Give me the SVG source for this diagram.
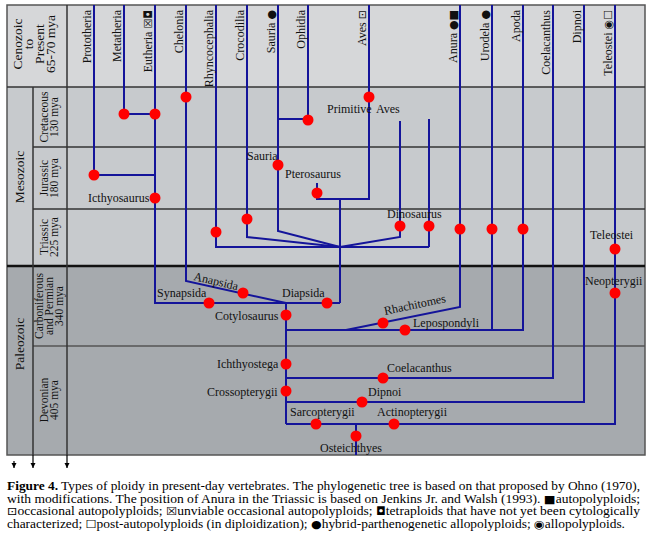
<svg xmlns="http://www.w3.org/2000/svg" width="650" height="537" viewBox="0 0 650 537">
<style>
.t{font-family:"Liberation Serif","Times New Roman",serif;font-size:12px;fill:#111}
.hd{font-family:"Liberation Serif","Times New Roman",serif;font-size:12px;fill:#111;text-anchor:end}
.era{font-family:"Liberation Serif","Times New Roman",serif;font-size:13.5px;fill:#111;text-anchor:middle}
.per{font-family:"Liberation Serif","Times New Roman",serif;font-size:11.5px;fill:#111;text-anchor:middle}
.sym{font-family:"DejaVu Sans",sans-serif;font-size:11px}
.cap{font-family:"Liberation Serif","Times New Roman",serif;font-size:12px;fill:#000}
.ln{stroke:#14149a;stroke-width:2;fill:none}
.nd{fill:#ff0000}
.gd{stroke:#333;stroke-width:1.5;fill:none}
.ar{stroke:#000;stroke-width:1.2;fill:none}
</style>
<defs>
<marker id="ah" markerWidth="6" markerHeight="6" refX="5" refY="3" orient="auto" markerUnits="userSpaceOnUse">
<path d="M0,0.5 L5,3 L0,5.5 Z" fill="#000"/>
</marker>
</defs>
<rect width="650" height="537" fill="#fff"/>
<g id="bands">
<rect x="7" y="5" width="638" height="82" fill="#d6d7d9"/>
<rect x="7" y="87" width="638" height="179" fill="#c7cacd"/>
<rect x="7" y="266" width="638" height="189" fill="#a6aaae"/>
</g>
<g id="grid">
<rect x="7" y="5" width="638" height="450" fill="none" stroke="#555" stroke-width="1.5"/>
<line class="gd" x1="7" y1="87" x2="645" y2="87"/>
<line class="gd" x1="33" y1="147" x2="645" y2="147"/>
<line class="gd" x1="33" y1="209" x2="645" y2="209"/>
<line x1="7" y1="266" x2="645" y2="266" stroke="#111" stroke-width="2.5"/>
<line x1="33" y1="346" x2="645" y2="346" stroke="#555" stroke-width="1.5"/>
<line class="gd" x1="67" y1="5" x2="67" y2="455"/>
<line class="gd" x1="33" y1="87" x2="33" y2="455"/>
<line class="ar" x1="67" y1="455" x2="67" y2="468" marker-end="url(#ah)"/>
<line class="ar" x1="33" y1="455" x2="33" y2="468" marker-end="url(#ah)"/>
<line class="ar" x1="14" y1="461" x2="14" y2="468" marker-end="url(#ah)"/>
</g>
<g id="eras">
<g transform="translate(0,44) rotate(-90)">
<text class="era" x="0" y="22">Cenozoic</text>
<text class="era" x="0" y="32.5">to</text>
<text class="era" x="0" y="43.5">Present</text>
<text class="era" x="0" y="54.5">65-70 mya</text>
</g>
<text class="era" transform="translate(24,177) rotate(-90)">Mesozoic</text>
<text class="era" transform="translate(24,344) rotate(-90)">Paleozoic</text>
<g transform="translate(0,117) rotate(-90)"><text class="per" y="48">Cretaceous</text><text class="per" y="58">130 mya</text></g>
<g transform="translate(0,178) rotate(-90)"><text class="per" y="48">Jurassic</text><text class="per" y="58">180 mya</text></g>
<g transform="translate(0,237) rotate(-90)"><text class="per" y="48">Triassic</text><text class="per" y="58">225 mya</text></g>
<g transform="translate(0,306) rotate(-90)"><text class="per" y="43">Carboniferous</text><text class="per" y="53">and Permian</text><text class="per" y="63">340 mya</text></g>
<g transform="translate(0,400) rotate(-90)"><text class="per" y="48">Devonian</text><text class="per" y="58">405 mya</text></g>
</g>
<g id="connectors">
<path class="ln" d="M94,5 V175 H155"/>
<path class="ln" d="M124,5 V114 H155"/>
<path class="ln" d="M155,5 V303 H340"/>
<path class="ln" d="M186,5 V281 L286,303"/>
<path class="ln" d="M216,5 V247 H429"/>
<path class="ln" d="M247,5 V237 L340,247"/>
<path class="ln" d="M278,5 V231 L340,247"/>
<path class="ln" d="M278,119 H308"/>
<path class="ln" d="M308,5 V120"/>
<path class="ln" d="M369,5 V199 H317 V183"/>
<path class="ln" d="M340,199 V303"/>
<path class="ln" d="M400,121 V237 L340,247"/>
<path class="ln" d="M429,119 V247"/>
<path class="ln" d="M460,5 V307 L346,330"/>
<path class="ln" d="M492,5 V330"/>
<path class="ln" d="M523,5 V330 H286"/>
<path class="ln" d="M553,5 V378 H286"/>
<path class="ln" d="M584,5 V402 H286"/>
<path class="ln" d="M615,5 V424 H286"/>
<path class="ln" d="M286,303 V424"/>
<path class="ln" d="M356,424 V455"/>
</g>
<g id="header-labels">
<text id="h-prototheria" class="hd" transform="translate(91,10) rotate(-90)">Prototheria</text>
<text id="h-metatheria" class="hd" transform="translate(121,10) rotate(-90)">Metatheria</text>
<text id="h-eutheria" class="hd" transform="translate(152,10) rotate(-90)">Eutheria <tspan class="sym">☒◘</tspan></text>
<text id="h-chelonia" class="hd" transform="translate(183,10) rotate(-90)">Chelonia</text>
<text id="h-rhyncocephalia" class="hd" transform="translate(213,10) rotate(-90)">Rhyncocephalia</text>
<text id="h-crocodilia" class="hd" transform="translate(244,10) rotate(-90)">Crocodilia</text>
<text id="h-sauria" class="hd" transform="translate(275,10) rotate(-90)">Sauria <tspan class="sym">●</tspan></text>
<text id="h-ophidia" class="hd" transform="translate(305,10) rotate(-90)">Ophidia</text>
<text id="h-aves" class="hd" transform="translate(366,10) rotate(-90)">Aves <tspan class="sym">⊡</tspan></text>
<text id="h-anura" class="hd" transform="translate(457,10) rotate(-90)">Anura <tspan class="sym">●■</tspan></text>
<text id="h-urodela" class="hd" transform="translate(489,10) rotate(-90)">Urodela <tspan class="sym">●</tspan></text>
<text id="h-apoda" class="hd" transform="translate(520,10) rotate(-90)">Apoda</text>
<text id="h-coelacanthus" class="hd" transform="translate(550,10) rotate(-90)">Coelacanthus</text>
<text id="h-dipnoi" class="hd" transform="translate(581,10) rotate(-90)">Dipnoi</text>
<text id="h-teleostei" class="hd" transform="translate(612,10) rotate(-90)">Teleostei <tspan class="sym">◉☐</tspan></text>
</g>
<g id="nodes">
<g id="n-prototheria"><circle class="nd" cx="94" cy="175" r="5.5"/></g>
<g id="n-metatheria"><circle class="nd" cx="124" cy="114" r="5.5"/></g>
<g id="n-eutheria"><circle class="nd" cx="155" cy="114" r="5.5"/></g>
<g id="n-icthyosaurus"><circle class="nd" cx="155" cy="198" r="5.5"/><text class="t" x="88" y="202">Icthyosaurus</text></g>
<g id="n-chelonia"><circle class="nd" cx="186" cy="97" r="5.5"/></g>
<g id="n-rhyncocephalia"><circle class="nd" cx="216" cy="232" r="5.5"/></g>
<g id="n-crocodilia"><circle class="nd" cx="247" cy="219" r="5.5"/></g>
<g id="n-sauria"><circle class="nd" cx="278" cy="165" r="5.5"/><text class="t" x="247" y="160">Sauria</text></g>
<g id="n-ophidia"><circle class="nd" cx="308" cy="120" r="5.5"/></g>
<g id="n-pterosaurus"><circle class="nd" cx="317" cy="193" r="5.5"/><text class="t" x="285" y="178">Pterosaurus</text></g>
<g id="n-aves"><circle class="nd" cx="369" cy="97" r="5.5"/><text class="t" x="327" y="113">Primitive<tspan x="376">Aves</tspan></text></g>
<g id="n-dinosaurus"><circle class="nd" cx="400" cy="226" r="5.5"/><circle class="nd" cx="429" cy="226" r="5.5"/><text class="t" x="387" y="218">Dinosaurus</text></g>
<g id="n-anura"><circle class="nd" cx="460" cy="229" r="5.5"/></g>
<g id="n-urodela"><circle class="nd" cx="492" cy="229" r="5.5"/></g>
<g id="n-apoda"><circle class="nd" cx="523" cy="229" r="5.5"/></g>
<g id="n-teleostei"><circle class="nd" cx="615" cy="249" r="5.5"/><text class="t" x="590" y="239">Teleostei</text></g>
<g id="n-neopterygii"><circle class="nd" cx="615" cy="293" r="5.5"/><text class="t" x="585" y="285">Neopterygii</text></g>
<g id="n-synapsida"><circle class="nd" cx="209" cy="303" r="5.5"/><text class="t" x="157" y="297">Synapsida</text></g>
<g id="n-anapsida"><circle class="nd" cx="243" cy="293" r="5.5"/><text class="t" transform="translate(193,280) rotate(13)">Anapsida</text></g>
<g id="n-diapsida"><circle class="nd" cx="327" cy="303" r="5.5"/><text class="t" x="282" y="297">Diapsida</text></g>
<g id="n-cotylosaurus"><circle class="nd" cx="286" cy="315" r="5.5"/><text class="t" x="215" y="320">Cotylosaurus</text></g>
<g id="n-rhachitomes"><circle class="nd" cx="383" cy="323" r="5.5"/><text class="t" transform="translate(385,315) rotate(-12)">Rhachitomes</text></g>
<g id="n-lepospondyli"><circle class="nd" cx="405" cy="330" r="5.5"/><text class="t" x="413" y="327">Lepospondyli</text></g>
<g id="n-ichthyostega"><circle class="nd" cx="286" cy="364" r="5.5"/><text class="t" x="217" y="368">Ichthyostega</text></g>
<g id="n-coelacanthus"><circle class="nd" cx="383" cy="378" r="5.5"/><text class="t" x="387" y="372">Coelacanthus</text></g>
<g id="n-crossopterygii"><circle class="nd" cx="286" cy="391" r="5.5"/><text class="t" x="207" y="396">Crossopterygii</text></g>
<g id="n-dipnoi"><circle class="nd" cx="362" cy="402" r="5.5"/><text class="t" x="368" y="396">Dipnoi</text></g>
<g id="n-sarcopterygii"><circle class="nd" cx="316" cy="424" r="5.5"/><text class="t" x="290" y="416">Sarcopterygii</text></g>
<g id="n-actinopterygii"><circle class="nd" cx="394" cy="424" r="5.5"/><text class="t" x="377" y="416">Actinopterygii</text></g>
<g id="n-osteichthyes"><circle class="nd" cx="356" cy="436" r="5.5"/><text class="t" x="320" y="452">Osteichthyes</text></g>
</g>
<g id="caption">
<text class="cap" x="7" y="490" textLength="633" lengthAdjust="spacingAndGlyphs"><tspan font-weight="bold">Figure 4.</tspan> Types of ploidy in present-day vertebrates. The phylogenetic tree is based on that proposed by Ohno (1970),</text>
<text class="cap" x="7" y="502.5" textLength="633" lengthAdjust="spacingAndGlyphs">with modifications. The position of Anura in the Triassic is based on Jenkins Jr. and Walsh (1993). <tspan class="sym">■</tspan>autopolyploids;</text>
<text class="cap" x="7" y="515" textLength="633" lengthAdjust="spacingAndGlyphs"><tspan class="sym">⊡</tspan>occasional autopolyploids; <tspan class="sym">☒</tspan>unviable occasional autopolyploids; <tspan class="sym">◘</tspan>tetraploids that have not yet been cytologically</text>
<text class="cap" x="7" y="527.5" textLength="618" lengthAdjust="spacingAndGlyphs">characterized; <tspan class="sym">☐</tspan>post-autopolyploids (in diploidization); <tspan class="sym">●</tspan>hybrid-parthenogenetic allopolyploids; <tspan class="sym">◉</tspan>allopolyploids.</text>
</g>
</svg>
